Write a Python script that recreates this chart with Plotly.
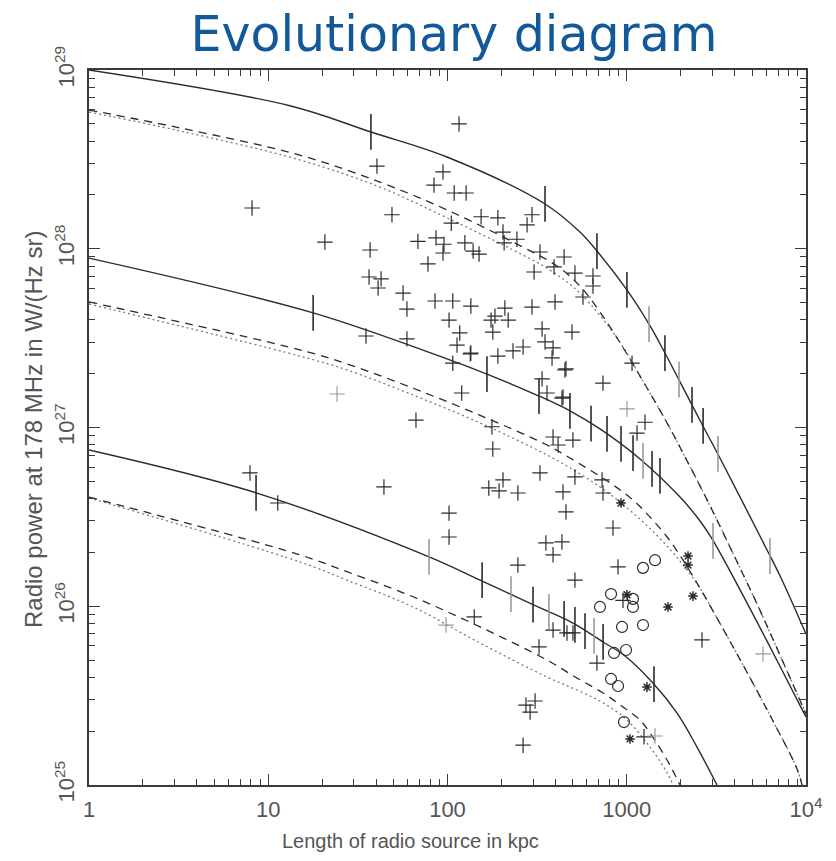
import numpy as np
import plotly.graph_objects as go

# ---------------- evolutionary tracks (length in kpc, power in W/(Hz sr)) ----------------
t1_solid_x = [1, 13.2, 37.4, 99.3, 350, 548, 682, 1002, 1349, 1633, 1982, 2661, 3311, 6053, 7161, 9616, 10000]
t1_solid_y = [1.0e29, 6.31e28, 4.50e28, 3.26e28, 1.78e28, 1.24e28, 9.71e27, 5.88e27, 3.70e27, 2.61e27,
              1.80e27, 1.02e27, 6.75e26, 2.07e26, 1.48e26, 7.66e25, 7.0e25]

t1_dash_x = [1, 3.22, 15.0, 42.0, 99.3, 232, 408, 548, 709, 883, 1186, 1679, 2061, 2564, 3187, 3673,
             5333, 7161, 9616, 10000]
t1_dash_y = [5.97e28, 4.74e28, 3.34e28, 2.36e28, 1.65e28, 1.09e28, 8.00e27, 6.19e27, 4.43e27, 3.17e27,
             1.94e27, 1.06e27, 7.19e26, 4.71e26, 3.04e26, 2.26e26, 1.03e26, 5.33e25, 2.73e25, 2.5e25]

t1_dot_x = [1, 3.22, 15.0, 42.0, 99.3, 232, 373, 548, 883, 1186, 1679, 2061, 2564, 3187, 3673,
            5333, 7161, 9616, 10000]
t1_dot_y = [5.82e28, 4.56e28, 3.14e28, 2.21e28, 1.49e28, 9.84e27, 7.60e27, 5.65e27, 3.17e27,
            1.94e27, 1.06e27, 7.19e26, 4.71e26, 3.04e26, 2.26e26, 1.03e26, 5.33e25, 2.73e25, 2.5e25]

t2_solid_x = [1, 17.8, 99.3, 166, 324, 482, 709, 1186, 1982, 2564, 2992, 4121, 6053, 9616, 10000]
t2_solid_y = [8.87e27, 4.38e27, 2.42e27, 1.99e27, 1.50e27, 1.24e27, 9.82e26, 6.67e26, 4.08e26, 3.00e26,
              2.38e26, 1.33e26, 6.40e25, 2.59e25, 2.40e25]

t2_dash_x = [1, 15.0, 27.5, 64.2, 152, 359, 482, 807, 1084, 1349, 1679, 2061, 2564, 3187, 4121, 5333,
             6546, 8913, 9500]
t2_dash_y = [5.04e27, 2.72e27, 2.27e27, 1.66e27, 1.17e27, 7.98e26, 6.75e26, 4.90e26, 3.93e26, 3.15e26,
             2.44e26, 1.81e26, 1.26e26, 8.59e25, 5.41e25, 3.36e25, 2.28e25, 1.23e25, 1.0e25]

t2_dot_x = [1, 15.0, 27.5, 64.2, 152, 359, 527, 709, 917, 1233, 1679, 2061, 2564, 3187, 4121, 5333,
            6546, 8913, 9500]
t2_dot_y = [4.91e27, 2.51e27, 2.10e27, 1.52e27, 1.06e27, 7.02e26, 5.64e26, 4.65e26, 3.83e26, 2.96e26,
            2.17e26, 1.70e26, 1.26e26, 8.59e25, 5.41e25, 3.36e25, 2.28e25, 1.23e25, 1.0e25]

t3_solid_x = [1, 8.55, 78.9, 152, 300, 501, 738, 978, 1400, 1905, 2466, 3187]
t3_solid_y = [7.48e26, 4.31e26, 1.89e26, 1.40e26, 1.02e26, 8.05e25, 6.31e25, 5.27e25, 3.72e25, 2.53e25,
              1.63e25, 1.0e25]

t3_dash_x = [1, 15.0, 27.5, 64.2, 152, 359, 527, 738, 953, 1186, 1349, 1679, 1982]
t3_dash_y = [4.08e26, 1.94e26, 1.56e26, 1.13e26, 7.66e25, 5.00e25, 3.97e25, 3.27e25, 2.73e25, 2.31e25,
             1.95e25, 1.38e25, 1.0e25]

t3_dot_x = [1, 15.0, 27.5, 64.2, 152, 359, 527, 738, 1002, 1349, 1679, 1811]
t3_dot_y = [4.04e26, 1.77e26, 1.40e26, 9.91e25, 6.22e25, 4.02e25, 3.40e25, 2.88e25, 2.31e25, 1.63e25,
            1.17e25, 1.0e25]

# ---------------- age markers along the solid tracks ----------------
bars_t1_x = [37.4, 350, 682, 1002, 1331, 1633, 1958, 2313, 2667, 3228, 6295]
bars_t1_y = [4.5e28, 1.78e28, 9.71e27, 5.88e27, 3.79e27, 2.61e27, 1.85e27, 1.34e27, 1.02e27, 7.11e26, 1.91e26]
bars_t2_x = [17.8, 166, 324, 482, 632, 776, 929, 1084, 1233, 1384, 1532, 3027]
bars_t2_y = [4.38e27, 1.99e27, 1.50e27, 1.24e27, 1.05e27, 9.20e26, 8.09e26, 7.20e26, 6.50e26, 5.86e26,
             5.36e26, 2.32e26]
bars_t3_x = [8.55, 78.9, 156, 226, 300, 368, 447, 514, 585, 657, 738, 1419]
bars_t3_y = [4.31e26, 1.89e26, 1.40e26, 1.17e26, 1.02e26, 9.29e25, 8.49e25, 7.86e25, 7.27e25, 6.82e25,
             6.31e25, 3.67e25]
bar_half_dex = 0.1

# ---------------- observed radio sources ----------------
cross_x = [8.12, 7.91, 11.3, 116, 40.4, 94.4, 84.1, 109, 127, 49.0,
           105, 154, 191, 296, 278, 204, 244, 20.7, 37.0, 68.4,
           86.3, 95.6, 94.4, 125, 139, 150, 207, 328, 447, 77.8,
           304, 393, 514, 36.5, 42.6, 41.0, 56.5, 59.4, 85.2, 107,
           135, 209, 296, 398, 102, 175, 184, 218, 117, 179,
           337, 495, 35.1, 59.4, 113, 135, 191, 232, 264, 350,
           383, 648, 648, 570, 388, 452, 737, 1070, 1003, 1264,
           435, 1141, 107, 134, 458, 24.2, 120, 66.7, 177, 179,
           337, 359, 441, 388, 414, 501, 328, 514, 44.2, 170,
           194, 204, 247, 441, 458, 102, 102, 354, 388, 435,
           247, 514, 141, 98.1, 388, 464, 501, 324, 274, 308,
           289, 264, 737, 838, 894, 682, 728, 1248, 1438, 2629,
           5757, 953]
cross_y = [1.69e28, 5.57e26, 3.78e26, 4.99e28, 2.90e28, 2.69e28, 2.27e28, 2.05e28, 2.05e28, 1.55e28,
           1.39e28, 1.51e28, 1.49e28, 1.55e28, 1.36e28, 1.24e28, 1.13e28, 1.09e28, 9.84e27, 1.10e28,
           1.15e28, 1.06e28, 9.47e27, 1.08e28, 9.71e27, 9.34e27, 1.08e28, 9.59e27, 8.99e27, 8.22e27,
           7.41e27, 7.91e27, 7.31e27, 6.95e27, 6.78e27, 6.03e27, 5.65e27, 4.60e27, 5.10e27, 5.10e27,
           4.78e27, 4.66e27, 4.72e27, 5.04e27, 3.99e27, 3.99e27, 4.20e27, 3.99e27, 3.38e27, 3.42e27,
           3.56e27, 3.42e27, 3.25e27, 3.13e27, 2.89e27, 2.61e27, 2.51e27, 2.68e27, 2.82e27, 3.01e27,
           2.45e27, 7.04e27, 6.19e27, 5.37e27, 2.79e27, 2.10e27, 1.77e27, 2.29e27, 1.27e27, 1.07e27,
           1.46e27, 9.31e26, 2.29e27, 2.58e27, 2.13e27, 1.54e27, 1.56e27, 1.10e27, 1.01e27, 7.58e26,
           1.87e27, 1.56e27, 1.48e27, 8.85e26, 7.98e26, 8.51e26, 5.57e26, 5.29e26, 4.65e26, 4.59e26,
           4.42e26, 5.09e26, 4.30e26, 4.36e26, 3.37e26, 3.32e26, 2.44e26, 2.26e26, 1.94e26, 2.29e26,
           1.70e26, 1.40e26, 8.71e25, 7.85e25, 7.36e25, 7.09e25, 7.09e25, 5.92e25, 2.80e25, 2.95e25,
           2.56e25, 1.67e25, 4.30e26, 2.74e26, 1.66e26, 4.81e25, 5.09e26, 1.86e25, 1.88e25, 6.48e25,
           5.41e25, 1.08e26]

star_x = [929, 2197, 2197, 2342, 1699, 1003, 1297, 1043]
star_y = [3.78e26, 1.91e26, 1.70e26, 1.14e26, 9.91e25, 1.16e26, 3.53e25, 1.81e25]

circ_x = [1438, 1232, 817, 709, 1083, 1083, 941, 1232, 849, 991, 817, 894, 965]
circ_y = [1.81e26, 1.64e26, 1.17e26, 9.91e25, 1.10e26, 9.91e25, 7.66e25, 7.85e25, 5.48e25, 5.69e25,
          3.92e25, 3.58e25, 2.25e25]

x_tick_vals = [1, 10, 100, 1000, 10000]
x_tick_text = ["1", "10", "100", "1000", "10<sup>4</sup>"]
y_tick_vals = [1e25, 1e26, 1e27, 1e28, 1e29]
y_tick_text = ["10<sup>25</sup>", "10<sup>26</sup>", "10<sup>27</sup>", "10<sup>28</sup>", "10<sup>29</sup>"]

# ---------------- styling ----------------
INK = "#2b2b2b"
FAINT = "#9a9a9a"
TEXT = "#555555"
SANS = "Liberation Sans, Arial, sans-serif"
faint_crosses = {68, 75, 103, 118, 120}
faint_bars = {1: {4, 6, 9, 10}, 2: {8, 11}, 3: {1, 3, 5, 9}}

fig = go.Figure()

def add_line(x, y, dash, color, width):
    fig.add_trace(go.Scatter(x=x, y=y, mode="lines", line=dict(color=color, width=width, dash=dash,
                                                                shape="spline", smoothing=1.0),
                             hoverinfo="skip", showlegend=False))

for sx, sy, dx, dy, ox, oy in [
    (t1_solid_x, t1_solid_y, t1_dash_x, t1_dash_y, t1_dot_x, t1_dot_y),
    (t2_solid_x, t2_solid_y, t2_dash_x, t2_dash_y, t2_dot_x, t2_dot_y),
    (t3_solid_x, t3_solid_y, t3_dash_x, t3_dash_y, t3_dot_x, t3_dot_y),
]:
    add_line(ox, oy, "2px,3px", "#7a7a7a", 1.3)
    add_line(dx, dy, "8px,6px", INK, 1.3)
    add_line(sx, sy, "solid", INK, 1.4)

# vertical age bars on the solid tracks
up = 10 ** bar_half_dex - 1
dn = 1 - 10 ** (-bar_half_dex)
for key, bx, by in [(1, bars_t1_x, bars_t1_y), (2, bars_t2_x, bars_t2_y), (3, bars_t3_x, bars_t3_y)]:
    for shade, idx in [(INK, [i for i in range(len(bx)) if i not in faint_bars[key]]),
                       (FAINT, sorted(faint_bars[key]))]:
        if not idx:
            continue
        yy = np.array([by[i] for i in idx])
        fig.add_trace(go.Scatter(
            x=[bx[i] for i in idx], y=yy, mode="markers",
            marker=dict(size=1, color="rgba(0,0,0,0)"),
            error_y=dict(type="data", symmetric=False, array=yy * up, arrayminus=yy * dn,
                         width=0, thickness=1.6, color=shade),
            hoverinfo="skip", showlegend=False))

# sources
cx = np.array(cross_x)
cy = np.array(cross_y)
dark_idx = [i for i in range(len(cx)) if i not in faint_crosses]
light_idx = sorted(faint_crosses)
for idx, col in [(dark_idx, INK), (light_idx, FAINT)]:
    fig.add_trace(go.Scatter(x=cx[idx], y=cy[idx], mode="markers",
                             marker=dict(symbol="cross-thin", size=11,
                                         line=dict(color=col, width=1.2)),
                             hoverinfo="skip", showlegend=False))

fig.add_trace(go.Scatter(x=circ_x, y=circ_y, mode="markers",
                         marker=dict(symbol="circle-open", size=11, color=INK, line=dict(width=1.2)),
                         hoverinfo="skip", showlegend=False))
fig.add_trace(go.Scatter(x=star_x, y=star_y, mode="markers",
                         marker=dict(symbol="asterisk", size=8, line=dict(color=INK, width=1.5)),
                         hoverinfo="skip", showlegend=False))

minor_vals = [float(m) * 10.0 ** e for e in range(0, 30) for m in range(2, 10)]

axis_common = dict(
    type="log", showgrid=False, zeroline=False,
    showline=True, linecolor="#3a3a3a", linewidth=1.5, mirror="allticks",
    ticks="inside", ticklen=11, tickwidth=1.3, tickcolor="#3a3a3a",
    minor=dict(ticks="inside", ticklen=6, tickwidth=1.1, tickcolor="#3a3a3a",
               tickvals=minor_vals, showgrid=False),
    tickfont=dict(family=SANS, size=22, color=TEXT),
)

fig.update_layout(
    width=836, height=861,
    margin=dict(l=89, r=30, t=70, b=76),
    paper_bgcolor="white", plot_bgcolor="white",
    title=dict(text="Evolutionary diagram", x=454 / 836, xanchor="center",
               y=1 - 34 / 861, yanchor="middle", yref="container",
               font=dict(family="DejaVu Sans, Verdana, sans-serif", size=49, color="#13599a")),
    xaxis=dict(range=[0, 4], tickvals=x_tick_vals, ticktext=x_tick_text,
               ticklabelstandoff=4, **axis_common),
    yaxis=dict(range=[25, 29], tickvals=y_tick_vals, ticktext=y_tick_text, tickangle=-90,
               ticklabelstandoff=4, **axis_common),
    annotations=[
        dict(text="Length of radio source in kpc", xref="paper", yref="paper",
             x=(410 - 89) / 717, y=(785 - 841) / 715, xanchor="center", yanchor="middle",
             showarrow=False, font=dict(family=SANS, size=20, color=TEXT)),
        dict(text="Radio power at 178 MHz in W/(Hz sr)", xref="paper", yref="paper",
             x=(33 - 89) / 717, y=(785 - 430) / 715, xanchor="center", yanchor="middle",
             textangle=-90, showarrow=False,
             font=dict(family=SANS, size=24, color=TEXT)),
    ],
)

fig.write_html("out.html")
